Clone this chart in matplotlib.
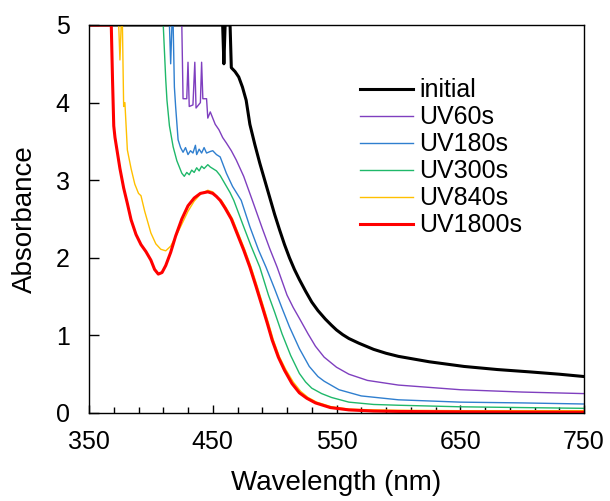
import matplotlib.pyplot as plt
from matplotlib.ticker import FixedLocator
import numpy as np

plt.rcParams['font.family'] = ['Liberation Sans', 'DejaVu Sans']

# saturated points are stored as 5 (instrument limit / axis max)
wl_initial = [350, 458, 459, 460, 464, 465, 468, 471, 474, 477, 480, 484, 488, 492, 496, 500, 504,
              508, 512, 516, 520, 525, 530, 535, 541, 546, 550, 555, 560, 568, 580, 590, 600, 625, 653,
              680, 706, 730, 750]
abs_initial = [5, 5, 4.5, 5, 5, 4.45, 4.4, 4.33, 4.2, 4.03, 3.72, 3.46, 3.22, 3.0, 2.78, 2.56, 2.36,
               2.17, 2.0, 1.85, 1.72, 1.57, 1.43, 1.32, 1.21, 1.13, 1.07, 1.01, 0.96, 0.90, 0.82, 0.77,
               0.73, 0.66, 0.60, 0.56, 0.53, 0.50, 0.47]

wl_uv60 = [350, 425, 426, 429, 430, 431, 434, 435.5, 436.5, 440, 441, 442, 445, 446, 448, 450, 452, 455,
           458, 461, 465, 469, 475, 482, 490, 496, 502, 510, 515, 520, 527, 533, 540, 550, 560, 575, 600,
           650, 700, 750]
abs_uv60 = [5, 5, 4.05, 4.05, 4.52, 3.95, 3.97, 4.52, 3.93, 4.0, 4.52, 4.05, 4.05, 3.8, 3.88, 3.8, 3.72,
            3.65, 3.55, 3.48, 3.38, 3.26, 3.05, 2.74, 2.38, 2.12, 1.88, 1.52, 1.36, 1.22, 1.02, 0.86, 0.72,
            0.59, 0.50, 0.42, 0.36, 0.30, 0.27, 0.25]

wl_uv180 = [350, 415, 416, 417, 418, 419, 420, 422, 424, 426, 428, 430, 432, 434, 436, 437, 439, 441, 443,
            445, 448, 450, 453, 456, 461, 466, 473, 480, 487, 493, 500, 506, 512, 520, 528, 535, 540, 552,
            570, 600, 650, 700, 750]
abs_uv180 = [5, 5, 4.5, 5, 5, 4.2, 3.95, 3.52, 3.42, 3.36, 3.42, 3.33, 3.38, 3.35, 3.45, 3.33, 3.4, 3.35, 3.42,
             3.35, 3.37, 3.38, 3.33, 3.3, 3.09, 2.92, 2.74, 2.4, 2.1, 1.88, 1.6, 1.35, 1.11, 0.83, 0.6, 0.47,
             0.41, 0.30, 0.22, 0.17, 0.14, 0.13, 0.116]

wl_uv300 = [350, 410, 412, 413, 415, 418, 421, 425, 427, 429, 431, 433, 435, 437, 439, 441, 443, 446, 448,
            450, 453, 456, 460, 464, 467, 475, 481, 488, 495, 500, 506, 513, 520, 525, 530, 538, 546, 560,
            580, 600, 650, 700, 750]
abs_uv300 = [5, 5, 4.3, 4.03, 3.7, 3.43, 3.25, 3.09, 3.05, 3.1, 3.07, 3.13, 3.1, 3.16, 3.12, 3.18, 3.15, 3.2,
             3.17, 3.15, 3.12, 3.06, 2.95, 2.84, 2.74, 2.4, 2.15, 1.88, 1.52, 1.3, 1.02, 0.74, 0.51, 0.40,
             0.32, 0.25, 0.20, 0.14, 0.11, 0.10, 0.08, 0.07, 0.06]

wl_uv840 = [350, 374, 375, 376, 377, 378, 379, 381, 384, 387, 390, 392, 395, 400, 404, 408, 412, 416, 420,
            424, 430, 435, 440, 446, 450, 454, 457, 461, 466, 471, 476, 481, 486, 491, 495, 499, 504, 509,
            515, 521, 527, 534, 546, 560, 580, 600, 650, 700, 750]
abs_uv840 = [5, 5, 4.55, 5, 5, 3.95, 4.0, 3.39, 3.15, 2.95, 2.83, 2.8, 2.6, 2.32, 2.18, 2.11, 2.09, 2.15, 2.27,
             2.4, 2.6, 2.73, 2.82, 2.87, 2.85, 2.78, 2.74, 2.64, 2.5, 2.3, 2.1, 1.88, 1.63, 1.37, 1.16, 0.94,
             0.72, 0.56, 0.40, 0.28, 0.20, 0.14, 0.08, 0.05, 0.04, 0.035, 0.03, 0.03, 0.03]

wl_uv1800 = [350, 368, 369, 370, 371, 372, 375, 378, 381, 384, 388, 392, 396, 400, 403, 406, 409, 412, 416,
             420, 425, 430, 435, 440, 446, 450, 453, 456, 460, 465, 470, 475, 480, 485, 490, 494, 498, 503,
             508, 514, 520, 526, 533, 545, 560, 580, 600, 650, 700, 750]
abs_uv1800 = [5, 5, 4.3, 3.7, 3.55, 3.45, 3.15, 2.9, 2.7, 2.49, 2.3, 2.17, 2.08, 1.97, 1.85, 1.79, 1.81, 1.9,
              2.07, 2.28, 2.5, 2.67, 2.77, 2.83, 2.85, 2.83, 2.79, 2.74, 2.64, 2.5, 2.3, 2.1, 1.88, 1.63, 1.37,
              1.16, 0.94, 0.72, 0.55, 0.38, 0.26, 0.19, 0.13, 0.07, 0.04, 0.025, 0.02, 0.015, 0.012, 0.01]

series = [
    ('initial', wl_initial, abs_initial, 'black', 2.2),
    ('UV60s', wl_uv60, abs_uv60, '#7f3fbf', 1.0),
    ('UV180s', wl_uv180, abs_uv180, '#2f7fcf', 1.0),
    ('UV300s', wl_uv300, abs_uv300, '#1fb86a', 1.0),
    ('UV840s', wl_uv840, abs_uv840, '#ffc000', 1.0),
    ('UV1800s', wl_uv1800, abs_uv1800, '#ff0000', 2.2),
]

fig = plt.figure(figsize=(6.1, 5.01), dpi=100)
ax = fig.add_axes([89 / 610, 88 / 501, 495 / 610, 388 / 501])

for name, x, y, c, lw in series:
    ax.plot(x, y, color=c, lw=lw, label=name)

ax.set_xlim(350, 750)
ax.set_ylim(0, 5)
ax.xaxis.set_major_locator(FixedLocator(np.arange(350, 751, 100)))
ax.xaxis.set_minor_locator(FixedLocator(np.arange(350, 751, 20)))
ax.yaxis.set_major_locator(FixedLocator(np.arange(0, 6, 1)))
ax.tick_params(direction='in', width=1, labelsize=18, right=False, top=False)
ax.tick_params(axis='x', which='major', length=6, pad=12)
ax.tick_params(axis='y', which='major', length=7, pad=14)
ax.tick_params(which='minor', direction='in', length=4.5, width=1)
for s in ax.spines.values():
    s.set_linewidth(1)

ax.set_xlabel('Wavelength (nm)', fontsize=20, labelpad=12)
ax.set_ylabel('Absorbance', fontsize=20, labelpad=13)

ax.legend(loc='upper left', bbox_to_anchor=(0.528, 0.888), frameon=False, fontsize=18,
          handlelength=2.1, handletextpad=0.25, labelspacing=0.12, borderaxespad=0)

fig.savefig('out.png', dpi=100)
